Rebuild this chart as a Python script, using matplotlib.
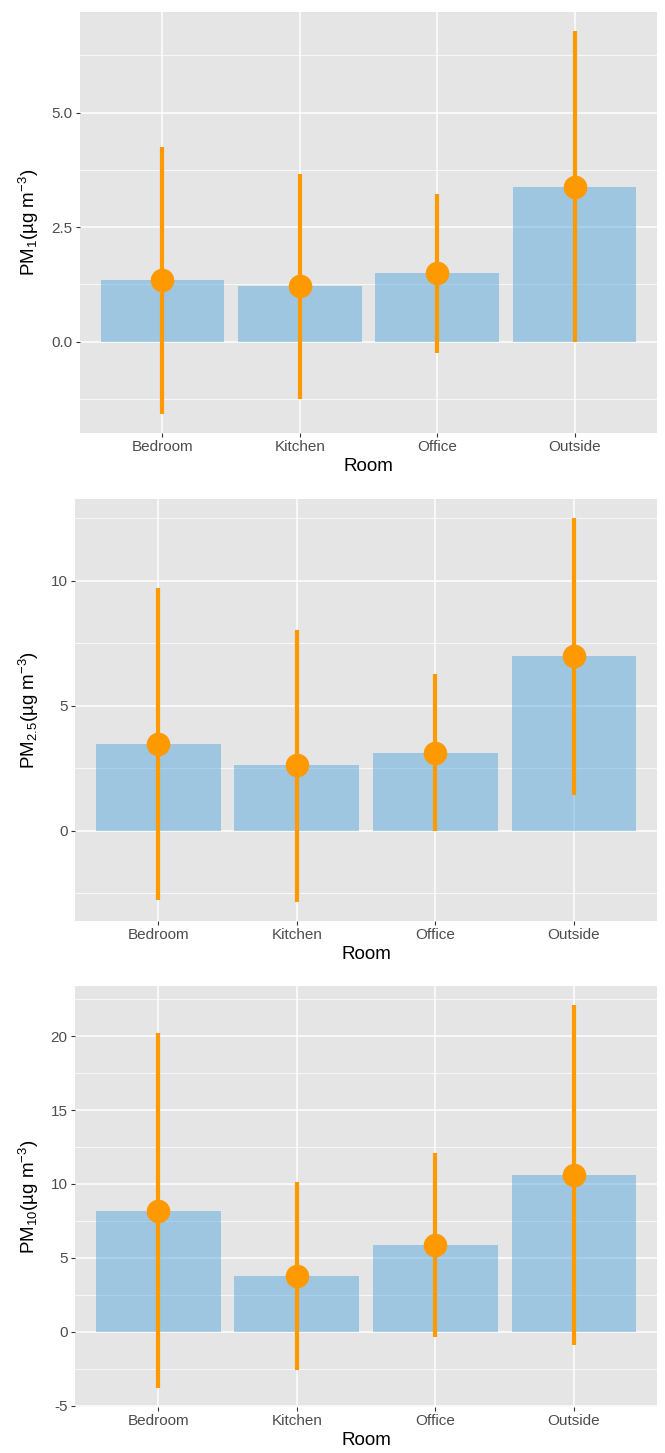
import numpy as np
import matplotlib
matplotlib.use("Agg")
import matplotlib.pyplot as plt
from matplotlib.ticker import MultipleLocator, FormatStrFormatter

plt.rcParams['font.family'] = ['Liberation Sans', 'DejaVu Sans']
plt.rcParams['mathtext.fontset'] = 'custom'
plt.rcParams['mathtext.rm'] = 'Liberation Sans'
plt.rcParams['mathtext.it'] = 'Liberation Sans:italic'
plt.rcParams['mathtext.bf'] = 'Liberation Sans:bold'
plt.rcParams['axes.unicode_minus'] = False

rooms = ['Bedroom', 'Kitchen', 'Office', 'Outside']

# PM1
pm1_mean = [1.34, 1.22, 1.49, 3.38]
pm1_lo = [-1.58, -1.26, -0.26, 0.0]
pm1_hi = [4.25, 3.67, 3.23, 6.78]

# PM2.5
pm25_mean = [3.48, 2.63, 3.13, 6.97]
pm25_lo = [-2.77, -2.84, 0.0, 1.42]
pm25_hi = [9.70, 8.03, 6.26, 12.50]

# PM10
pm10_mean = [8.2, 3.78, 5.88, 10.62]
pm10_lo = [-3.8, -2.6, -0.35, -0.9]
pm10_hi = [20.2, 10.15, 12.1, 22.1]

ylabels = [r'PM$_{1}$(µg m$^{-3}$)', r'PM$_{2.5}$(µg m$^{-3}$)', r'PM$_{10}$(µg m$^{-3}$)']
panels = [(pm1_mean, pm1_lo, pm1_hi, 2.5, '%.1f'),
          (pm25_mean, pm25_lo, pm25_hi, 5, '%d'),
          (pm10_mean, pm10_lo, pm10_hi, 5, '%d')]

# pixel boxes: left, top, right, bottom
boxes = [(80, 12, 657, 433), (75, 499, 657, 921), (75, 986, 657, 1407)]

W, H = 665, 1453
fig = plt.figure(figsize=(W / 100, H / 100), dpi=100)

x = np.arange(len(rooms))
for (mean, lo, hi, step, fmt), ylab, (l, t, r, b) in zip(panels, ylabels, boxes):
    ax = fig.add_axes([l / W, 1 - b / H, (r - l) / W, (b - t) / H])
    ax.set_facecolor('#E5E5E5')
    for s in ax.spines.values():
        s.set_visible(False)

    ax.bar(x, mean, width=0.9, color='#5BA8DC', alpha=0.5, zorder=2)
    ax.vlines(x, lo, hi, color='#FF9900', lw=3.0, zorder=3)
    ax.plot(x, mean, 'o', color='#FF9900', ms=17, mec='none', zorder=4)

    dmin = min(min(lo), 0)
    dmax = max(hi)
    pad = (dmax - dmin) * 0.05
    ax.set_ylim(dmin - pad, dmax + pad)
    ax.set_xlim(-0.6, len(rooms) - 0.4)

    ax.yaxis.set_major_locator(MultipleLocator(step))
    ax.yaxis.set_minor_locator(MultipleLocator(step / 2))
    ax.yaxis.set_major_formatter(FormatStrFormatter(fmt))
    ax.set_xticks(x)
    ax.set_xticklabels(rooms)

    ax.grid(which='major', color='white', lw=1.1, zorder=1)
    ax.grid(which='minor', axis='y', color='white', lw=0.55, zorder=1)
    ax.set_axisbelow(True)

    ax.tick_params(which='major', length=2.75, width=0.8, color='#333333',
                   labelcolor='#4D4D4D', labelsize=11, pad=2.5)
    ax.tick_params(which='minor', length=0)

    ax.set_xlabel('Room', fontsize=13.5, labelpad=3)
    ax.set_ylabel(ylab, fontsize=13.5)
    ax.yaxis.set_label_coords((41 - l) / (r - l), 0.5)

plt.savefig('out.png', dpi=100)
